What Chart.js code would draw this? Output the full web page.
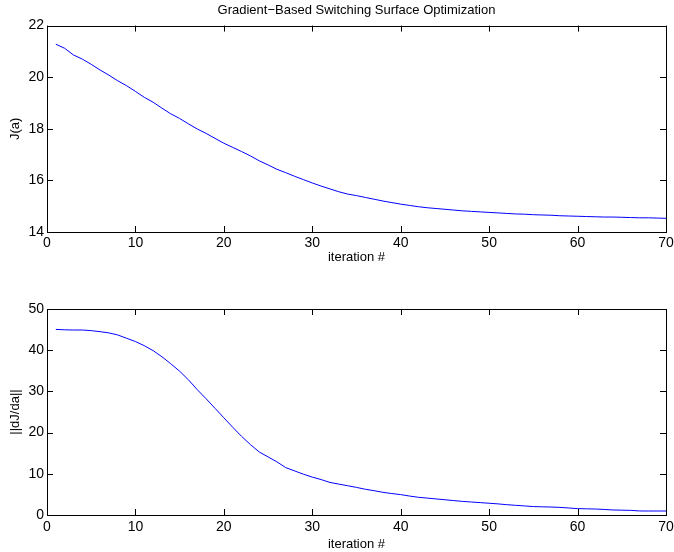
<!DOCTYPE html>
<html>
<head>
<meta charset="utf-8">
<script src="https://cdn.jsdelivr.net/npm/chart.js@4"></script>
<style>
  body { margin: 0; background: #fff; }
  canvas { position: absolute; left: 0; }
</style>
</head>
<body>
<canvas id="costChart" width="674" height="270" style="top:0px"></canvas>
<canvas id="gradChart" width="674" height="272" style="top:280px"></canvas>
<script>
const iterations = [1, 2, 3, 4, 5, 6, 7, 8, 9, 10, 11, 12, 13, 14, 15, 16, 17, 18, 19, 20,
    21, 22, 23, 24, 25, 26, 27, 28, 29, 30, 31, 32, 33, 34, 35, 36, 37, 38, 39, 40,
    41, 42, 43, 44, 45, 46, 47, 48, 49, 50, 51, 52, 53, 54, 55, 56, 57, 58, 59, 60,
    61, 62, 63, 64, 65, 66, 67, 68, 69, 70];

// J(a)
const cost = [21.28, 21.12, 20.86, 20.70, 20.50, 20.28, 20.08, 19.86, 19.67, 19.45,
    19.22, 19.03, 18.80, 18.58, 18.40, 18.19, 17.99, 17.82, 17.63, 17.44,
    17.28, 17.12, 16.95, 16.76, 16.60, 16.43, 16.30, 16.16, 16.03, 15.90,
    15.78, 15.67, 15.56, 15.47, 15.41, 15.34, 15.27, 15.20, 15.14, 15.08,
    15.03, 14.98, 14.94, 14.91, 14.88, 14.85, 14.82, 14.80, 14.78, 14.76,
    14.74, 14.72, 14.70, 14.69, 14.67, 14.66, 14.65, 14.63, 14.62, 14.61,
    14.60, 14.59, 14.58, 14.58, 14.57, 14.56, 14.55, 14.55, 14.54, 14.53];

// ||dJ/da||
const gradNorm = [45.05, 44.95, 44.9, 44.9, 44.75, 44.5, 44.2, 43.7, 42.9, 42.1,
    41.1, 39.9, 38.4, 36.7, 34.9, 32.8, 30.4, 28.2, 25.9, 23.6,
    21.3, 19.1, 17.1, 15.3, 14.1, 12.9, 11.5, 10.7, 9.9, 9.2,
    8.6, 7.9, 7.5, 7.1, 6.7, 6.25, 5.9, 5.5, 5.2, 4.95,
    4.6, 4.3, 4.1, 3.9, 3.7, 3.5, 3.3, 3.15, 3.0, 2.85,
    2.7, 2.5, 2.35, 2.2, 2.05, 1.98, 1.94, 1.85, 1.7, 1.55,
    1.5, 1.45, 1.35, 1.22, 1.17, 1.13, 0.98, 0.97, 0.97, 0.97];

const xTicks = [0, 10, 20, 30, 40, 50, 60, 70];
const costTicks = [14, 16, 18, 20, 22];
const gradTicks = [0, 10, 20, 30, 40, 50];

const FONT = "'Liberation Sans', Arial, Helvetica, sans-serif";

// matlab style box with ticks pointing inwards on all four sides
const boxTicks = {
    id: 'boxTicks',
    afterDatasetsDraw(chart) {
        const ctx = chart.ctx;
        const a = chart.chartArea;
        const x = chart.scales.x, y = chart.scales.y;
        ctx.save();
        ctx.strokeStyle = '#000';
        ctx.lineWidth = 1;
        ctx.beginPath();
        x.ticks.forEach(function(t) {
            const px = Math.round(x.getPixelForValue(t.value)) + 0.5;
            ctx.moveTo(px, a.bottom); ctx.lineTo(px, a.bottom - 6);
            ctx.moveTo(px, a.top); ctx.lineTo(px, a.top + 6);
        });
        y.ticks.forEach(function(t) {
            const py = Math.round(y.getPixelForValue(t.value)) + 0.5;
            ctx.moveTo(a.left, py); ctx.lineTo(a.left + 6, py);
            ctx.moveTo(a.right, py); ctx.lineTo(a.right - 6, py);
        });
        ctx.stroke();
        ctx.strokeRect(Math.round(a.left) + 0.5, Math.round(a.top) + 0.5,
            Math.round(a.right - a.left), Math.round(a.bottom - a.top));
        ctx.restore();
    }
};

function makeChart(id, values, yMin, yMax, yTickList, yLabel, opts) {
    const points = iterations.map(function(it, i) { return { x: it, y: values[i] }; });
    return new Chart(document.getElementById(id), {
        type: 'line',
        data: {
            datasets: [{
                data: points,
                borderColor: '#0000ff',
                borderWidth: 1,
                pointRadius: 0,
                tension: 0,
                fill: false
            }]
        },
        options: {
            responsive: false,
            animation: false,
            devicePixelRatio: 1,
            layout: { padding: { top: opts.padTop, right: 8, left: 0, bottom: 0 } },
            plugins: {
                legend: { display: false },
                tooltip: { enabled: false },
                title: {
                    display: !!opts.title,
                    text: opts.title,
                    fullSize: false,
                    color: '#000',
                    font: { family: FONT, size: 13, weight: 'normal' },
                    padding: { top: 3, bottom: 7 }
                }
            },
            scales: {
                x: {
                    type: 'linear',
                    min: 0, max: 70,
                    afterBuildTicks: function(s) { s.ticks = xTicks.map(function(v) { return { value: v }; }); },
                    afterFit: function(s) { s.height = opts.xAxisHeight; s.paddingLeft = 0; s.paddingRight = 0; },
                    grid: { display: false, drawTicks: false },
                    border: { display: false },
                    ticks: { color: '#000', padding: opts.tickPad, maxRotation: 0, font: { family: FONT, size: 14 } },
                    title: {
                        display: true, text: 'iteration #', color: '#000',
                        font: { family: FONT, size: 13 },
                        padding: { top: 0, bottom: opts.xTitlePad }
                    }
                },
                y: {
                    min: yMin, max: yMax,
                    afterBuildTicks: function(s) { s.ticks = yTickList.map(function(v) { return { value: v }; }); },
                    afterFit: function(s) { s.width = 47; s.paddingTop = 0; s.paddingBottom = 0; },
                    grid: { display: false, drawTicks: false },
                    border: { display: false },
                    ticks: { color: '#000', padding: 3, font: { family: FONT, size: 14 } },
                    title: {
                        display: true, text: yLabel, color: '#000',
                        font: { family: FONT, size: 13 },
                        padding: { top: 8, bottom: 0 }
                    }
                }
            }
        },
        plugins: [boxTicks]
    });
}

makeChart('costChart', cost, 14, 22, costTicks, 'J(a)', {
    title: 'Gradient\u2212Based Switching Surface Optimization',
    padTop: 0, xAxisHeight: 38, tickPad: 3, xTitlePad: 5
});
makeChart('gradChart', gradNorm, 0, 50, gradTicks, '||dJ/da||', {
    title: '',
    padTop: 29, xAxisHeight: 37, tickPad: 4, xTitlePad: 0
});
</script>
</body>
</html>
